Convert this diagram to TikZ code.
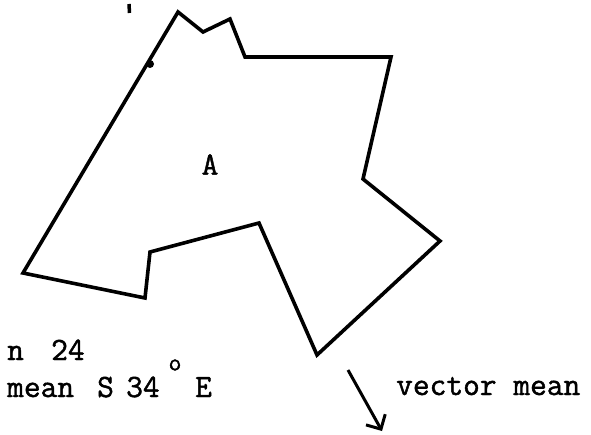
\documentclass[tikz,border=0pt]{standalone}
\usepackage{fontspec}
\newfontfamily\twfont[FakeBold=1.4]{Latin Modern Mono}
\usetikzlibrary{arrows.meta}
\begin{document}
\begin{tikzpicture}[x=1pt,y=-1pt,
  outline/.style={line width=3.6pt,line join=miter},
  lbl/.style={font=\twfont\fontsize{32.5}{32.5}\selectfont,inner sep=0pt,anchor=base west},
  vecarrow/.style={line width=3pt,-{Straight Barb[length=11pt,width=22pt,line width=3pt]}}]
\useasboundingbox (0,0) rectangle (591,435);
\coordinate (p1) at (178,12);
\coordinate (p2) at (203,32);
\coordinate (p3) at (230,19);
\coordinate (p4) at (245,57);
\coordinate (p5) at (391,57);
\coordinate (p6) at (363,179);
\coordinate (p7) at (440,241);
\coordinate (p8) at (317,355);
\coordinate (p9) at (259,223);
\coordinate (p10) at (150,252);
\coordinate (p11) at (145,298);
\coordinate (p12) at (23,273);
\draw[outline] (p1) -- (p2) -- (p3) -- (p4) -- (p5) -- (p6) -- (p7) -- (p8) -- (p9) -- (p10) -- (p11) -- (p12) -- cycle;
\fill (150,64) circle (4pt);
\draw[line width=3.5pt] (129,4) -- (129.5,13);
\node[font=\twfont\fontsize{32.5}{32.5}\selectfont,inner sep=0pt] (A) at (210,164.5) {A};
\node[lbl] (n) at (7,360) {n};
\node[lbl] (n24) at (51,360) {24};
\node[lbl] (mean) at (7,397) {mean};
\node[lbl] (S) at (97,397) {S};
\node[lbl] (num) at (126,397) {34};
\node[font=\twfont\fontsize{25}{25}\selectfont,inner sep=0pt] (deg) at (175,365) {o};
\node[lbl] (E) at (195,397) {E};
\node[lbl] (vm) at (396,395) {vector mean};
\coordinate (vs) at (348,370);
\coordinate (ve) at (382,431);
\draw[vecarrow] (vs) -- (ve);
\end{tikzpicture}
\end{document}
